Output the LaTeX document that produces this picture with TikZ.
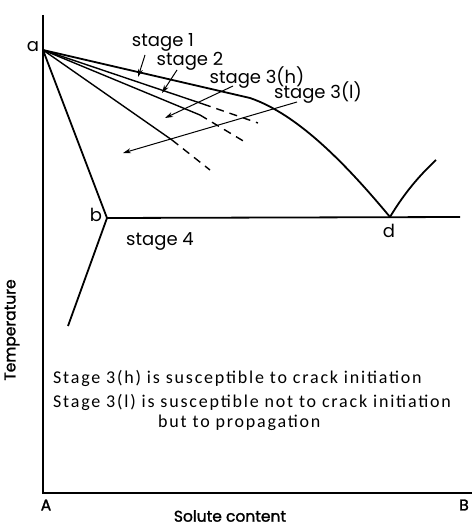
\documentclass[tikz,border=0pt]{standalone}
\usepackage{fontspec}
\setmainfont{Poppins}
\newfontfamily\axfont{Poppins}[BoldFont=Poppins, BoldFeatures={FakeBold=1.6}]
\newfontfamily\notefont{Carlito}[LetterSpace=10]
\usetikzlibrary{arrows.meta}
\begin{document}
\begin{tikzpicture}[x=1pt,y=-1pt,
  axis/.style={line width=2pt},
  phase/.style={line width=1.8pt},
  solidline/.style={line width=1.4pt},
  dashline/.style={line width=1.4pt, dash pattern=on 8pt off 6pt},
  pointer/.style={line width=1pt, -{Stealth[length=8pt,width=5pt]}},
  lbl/.style={font=\fontsize{18}{18}\selectfont, inner sep=0pt},
  axlbl/.style={font=\axfont\bfseries\fontsize{15.5}{15.5}\selectfont, inner sep=0pt},
  note/.style={font=\notefont\fontsize{18}{18}\selectfont, inner sep=0pt, anchor=west}]
\useasboundingbox (0,0) rectangle (472,527);
% axes
\coordinate (top) at (43,15);
\coordinate (O) at (43,493);
\coordinate (xend) at (472,493);
\draw[axis] (top) -- (O) -- (xend);
\node[axlbl] (A) at (46,505) {A};
\node[axlbl] (B) at (464,505) {B};
\node[axlbl] (xl) at (230,516) {Solute content};
\node[axlbl, rotate=90] (yl) at (12,330) {Temperature};
% key points
\coordinate (a) at (43,50);
\coordinate (b) at (107,218);
\coordinate (d) at (390,217);
\coordinate (k1) at (250,98);
\coordinate (lowend) at (68,326);
\coordinate (hend) at (460,217);
\coordinate (rend) at (436,160);
\node[lbl] (la) at (33,47) {a};
\node[lbl] (lb) at (96,215) {b};
\node[lbl] (ld) at (389,231) {d};
% phase lines
\draw[phase] (a) -- (k1) .. controls (300,115) and (350,169) .. (d);
\draw[phase] (d) .. controls (405,192) and (420,175) .. (rend);
\draw[phase] (a) -- (b) -- (lowend);
\draw[phase] (b) -- (hend);
% stage boundaries
\coordinate (s2) at (203,104);
\coordinate (s2e) at (258,123);
\coordinate (s3) at (200,115);
\coordinate (s3e) at (245,142);
\coordinate (s4) at (172,140);
\coordinate (s4e) at (210,170);
\draw[solidline] (a) -- (s2);
\draw[dashline] (s2) -- (s2e);
\draw[solidline] (a) -- (s3);
\draw[dashline] (s3) -- (s3e);
\draw[solidline] (a) -- (s4);
\draw[dashline] (s4) -- (s4e);
% stage labels and pointers
\node[lbl] (st1) at (163,42) {stage 1};
\node[lbl] (st2) at (190,61) {stage 2};
\node[lbl] (st3h) at (257,78) {stage 3(h)};
\node[lbl] (st3l) at (318,93) {stage 3(l)};
\node[lbl] (st4) at (160,241) {stage 4};
\coordinate (p1) at (138,77);
\coordinate (p2) at (162,93);
\coordinate (p3) at (165,118);
\coordinate (p4) at (123,153);
\draw[pointer] (145,55) -- (p1);
\draw[pointer] (177,70) -- (p2);
\draw[pointer] (233,86) -- (p3);
\draw[pointer] (297,102) -- (p4);
% notes
\node[note] (n1) at (53,378) {Stage 3(h) is susceptible to crack initiation};
\node[note] (n2) at (53,402) {Stage 3(l) is susceptible not to crack initiation};
\node[note] (n3) at (158,423) {but to propagation};
\end{tikzpicture}
\end{document}
